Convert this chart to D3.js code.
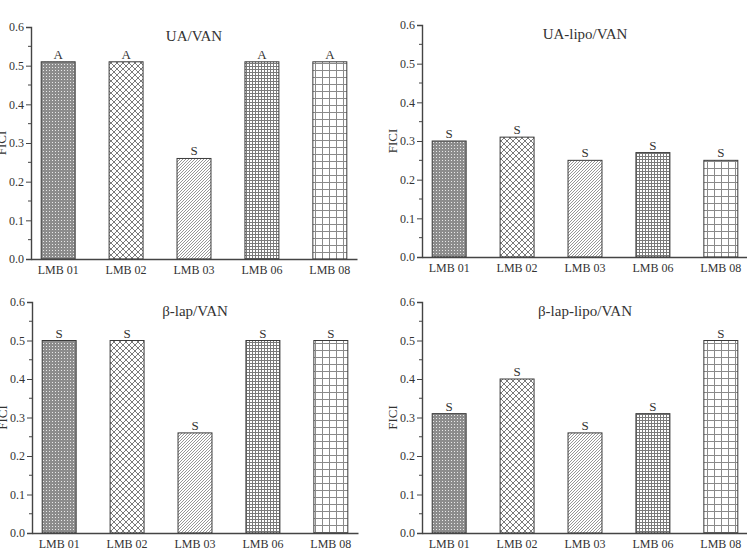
<!DOCTYPE html>
<html>
<head>
<meta charset="utf-8">
<script src="https://cdn.jsdelivr.net/npm/d3@7"></script>
<style>
  html, body { margin: 0; padding: 0; background: #fff; }
  svg { display: block; }
  text { font-family: "Liberation Serif", "Times New Roman", serif; fill: #333; }
</style>
</head>
<body>
<svg id="chart" width="747" height="552"></svg>
<script>
// ---- data ----
const categories = ["LMB 01", "LMB 02", "LMB 03", "LMB 06", "LMB 08"];
const yTicks = [0.0, 0.1, 0.2, 0.3, 0.4, 0.5, 0.6];
const panelTitles = ["UA/VAN", "UA-lipo/VAN", "β-lap/VAN", "β-lap-lipo/VAN"];
const uaVan = [0.51, 0.51, 0.26, 0.51, 0.51];
const uaVanLabels = ["A", "A", "S", "A", "A"];
const uaLipoVan = [0.30, 0.31, 0.25, 0.27, 0.25];
const uaLipoVanLabels = ["S", "S", "S", "S", "S"];
const bLapVan = [0.50, 0.50, 0.26, 0.50, 0.50];
const bLapVanLabels = ["S", "S", "S", "S", "S"];
const bLapLipoVan = [0.31, 0.40, 0.26, 0.31, 0.50];
const bLapLipoVanLabels = ["S", "S", "S", "S", "S"];
const yLabel = "FICI";

// ---- layout ----
const panels = [
  { title: panelTitles[0], values: uaVan, labels: uaVanLabels, x0: 31, x1: 357, yTop: 27, yBot: 259 },
  { title: panelTitles[1], values: uaLipoVan, labels: uaLipoVanLabels, x0: 422, x1: 748, yTop: 25, yBot: 257 },
  { title: panelTitles[2], values: bLapVan, labels: bLapVanLabels, x0: 32, x1: 358, yTop: 302, yBot: 533 },
  { title: panelTitles[3], values: bLapLipoVan, labels: bLapLipoVanLabels, x0: 422, x1: 748, yTop: 302, yBot: 533 }
];

const svg = d3.select("#chart");
const defs = svg.append("defs");

// patterns
function pat(id, size, build) {
  const p = defs.append("pattern").attr("id", id)
    .attr("patternUnits", "userSpaceOnUse").attr("width", size).attr("height", size);
  p.append("rect").attr("width", size).attr("height", size).attr("fill", "#fff");
  build(p, size);
}
pat("p0", 3, (p) => {
  p.append("rect").attr("width", 3).attr("height", 3).attr("fill", "#8c8c8c");
  p.append("rect").attr("x", 1).attr("y", 1).attr("width", 1).attr("height", 1).attr("fill", "#e8e8e8");
});
pat("p1", 6, (p, s) => {
  p.append("path").attr("d", `M0,0L${s},${s}M${s},0L0,${s}`)
    .attr("stroke", "#7a7a7a").attr("stroke-width", 1).attr("fill", "none");
});
pat("p2", 3, (p, s) => {
  p.append("path").attr("d", `M0,${s}L${s},0M-1,1L1,-1M${s - 1},${s + 1}L${s + 1},${s - 1}`)
    .attr("stroke", "#8a8a8a").attr("stroke-width", 0.9).attr("fill", "none");
});
pat("p3", 3, (p, s) => {
  p.append("path").attr("d", `M0,0.5H${s}M0.5,0V${s}`)
    .attr("stroke", "#7a7a7a").attr("stroke-width", 1).attr("fill", "none");
});
pat("p4", 7, (p, s) => {
  p.append("path").attr("d", `M0,0.5H${s}M0.5,0V${s}`)
    .attr("stroke", "#8a8a8a").attr("stroke-width", 1).attr("fill", "none");
});
const patIds = ["p0", "p1", "p2", "p3", "p4"];

panels.forEach((pn) => {
  const g = svg.append("g");
  const x = d3.scaleBand().domain(categories).range([pn.x0, pn.x1])
    .paddingInner(0.5).paddingOuter(0.15);
  const y = d3.scaleLinear().domain([0, 0.6]).range([pn.yBot, pn.yTop]);

  // bars
  g.selectAll("rect.bar").data(categories).join("rect")
    .attr("class", "bar")
    .attr("x", d => x(d))
    .attr("y", (d, i) => y(pn.values[i]))
    .attr("width", x.bandwidth())
    .attr("height", (d, i) => y(0) - y(pn.values[i]))
    .attr("fill", (d, i) => `url(#${patIds[i]})`)
    .attr("stroke", "#3a3a3a").attr("stroke-width", 1);

  // significance letters
  g.selectAll("text.sig").data(categories).join("text")
    .attr("class", "sig")
    .attr("x", d => x(d) + x.bandwidth() / 2)
    .attr("y", (d, i) => y(pn.values[i]) - 3)
    .attr("text-anchor", "middle")
    .attr("font-size", 13)
    .text((d, i) => pn.labels[i]);

  // y axis (major + minor ticks)
  const yAxis = d3.axisLeft(y).tickValues(yTicks).tickFormat(d3.format(".1f"))
    .tickSize(5).tickPadding(2);
  const ya = g.append("g").attr("transform", `translate(${pn.x0},0)`).call(yAxis);
  ya.select(".domain").attr("stroke", "#444").attr("stroke-width", 1.4);
  ya.selectAll(".tick line").attr("stroke", "#444").attr("stroke-width", 1);
  ya.selectAll(".tick text").attr("font-size", 12).attr("fill", "#333")
    .attr("font-family", "Liberation Serif, serif");
  const minor = d3.range(0, 6).map(i => yTicks[i] + 0.05);
  g.selectAll("line.minor").data(minor).join("line")
    .attr("class", "minor")
    .attr("x1", pn.x0 - 3).attr("x2", pn.x0)
    .attr("y1", d => y(d)).attr("y2", d => y(d))
    .attr("stroke", "#444").attr("stroke-width", 1);

  // x axis
  const xAxis = d3.axisBottom(x).tickSize(0).tickPadding(6);
  const xa = g.append("g").attr("transform", `translate(0,${pn.yBot})`).call(xAxis);
  xa.select(".domain").attr("stroke", "#444").attr("stroke-width", 1.4);
  xa.selectAll(".tick text").attr("font-size", 12).attr("fill", "#333")
    .attr("font-family", "Liberation Serif, serif");

  // title
  g.append("text")
    .attr("x", (pn.x0 + pn.x1) / 2)
    .attr("y", pn.yTop + 14)
    .attr("text-anchor", "middle")
    .attr("font-size", 15)
    .text(pn.title);

  // y label
  g.append("text")
    .attr("transform", `translate(${pn.x0 - 25},${(pn.yTop + pn.yBot) / 2}) rotate(-90)`)
    .attr("text-anchor", "middle")
    .attr("font-size", 13)
    .text(yLabel);
});
</script>
</body>
</html>
